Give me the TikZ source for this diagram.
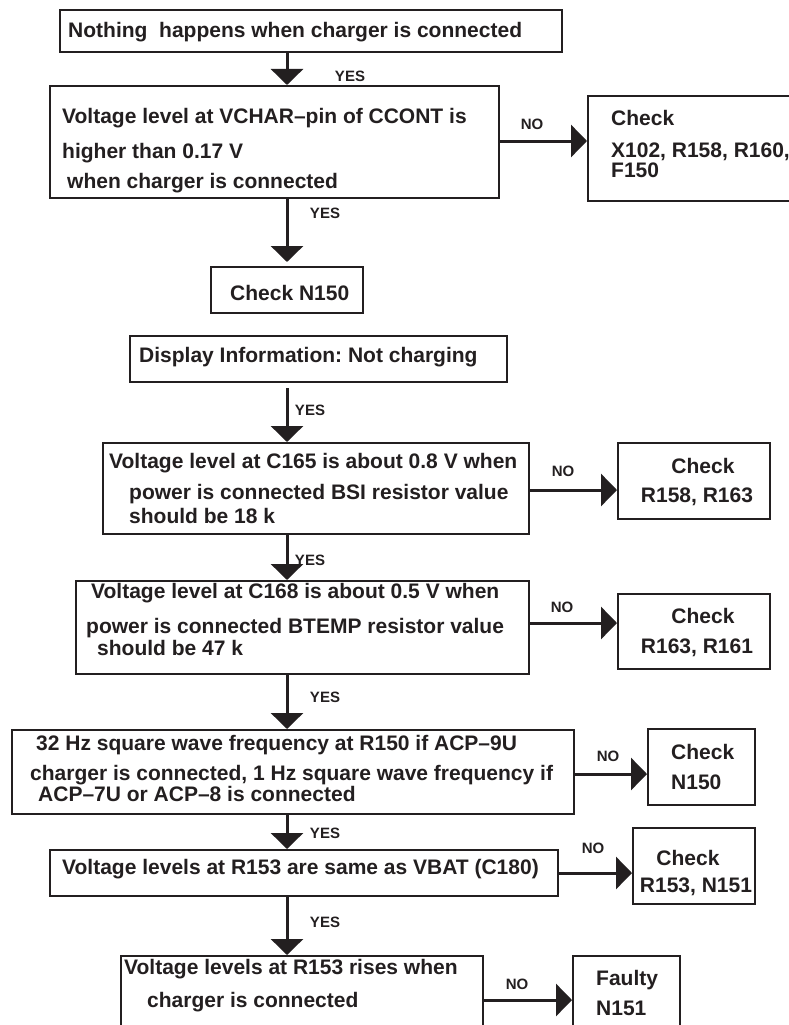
\documentclass[tikz,border=0pt]{standalone}
\usepackage{fontspec}
\setmainfont{Liberation Sans}
\usetikzlibrary{arrows.meta}
\definecolor{ink}{HTML}{231F20}
\frenchspacing
\begin{document}
\begin{tikzpicture}[x=1pt,y=-1pt,
  box/.style={draw=ink, line width=2pt, rectangle, inner sep=0pt},
  txt/.style={anchor=west, inner sep=0pt, text=ink,
    font=\fontsize{21}{24}\selectfont\bfseries, text height=15pt, text depth=4.4pt},
  ctxt/.style={txt, anchor=center},
  tag/.style={inner sep=0pt, text=ink, font=\fontsize{15}{18}\selectfont\bfseries},
  flow/.style={draw=ink, line width=3pt, -{Triangle[length=16pt,width=32pt]}}]

\useasboundingbox (0,0) rectangle (789,1025);
\fill[white] (0,0) rectangle (789,1025);
\clip (0,0) rectangle (789,1025);

% vertical guide of the main YES path
\coordinate (spine) at (287,0);

% ---- boxes ----
\node[box, minimum width=502pt, minimum height=42pt]  (b1)  at (311,31) {};
\node[box, minimum width=449pt, minimum height=112pt] (b2)  at (274.5,142) {};
\node[box, minimum width=212pt, minimum height=105pt] (b3)  at (694,148.5) {};
\node[box, minimum width=152pt, minimum height=46pt]  (b4)  at (287,290) {};
\node[box, minimum width=377pt, minimum height=46pt]  (b5)  at (318.5,359) {};
\node[box, minimum width=426pt, minimum height=91pt]  (b6)  at (316,488.5) {};
\node[box, minimum width=152pt, minimum height=76pt]  (b7)  at (694,481) {};
\node[box, minimum width=453pt, minimum height=93pt]  (b8)  at (302.5,627.5) {};
\node[box, minimum width=152pt, minimum height=75pt]  (b9)  at (694,631.5) {};
\node[box, minimum width=562pt, minimum height=84pt]  (b10) at (293,772) {};
\node[box, minimum width=107pt, minimum height=76pt]  (b11) at (701.5,767) {};
\node[box, minimum width=508pt, minimum height=46pt]  (b12) at (304,873) {};
\node[box, minimum width=122pt, minimum height=76pt]  (b13) at (694,866) {};
\node[box, minimum width=362pt, minimum height=89pt]  (b14) at (302,1000.5) {};
\node[box, minimum width=107pt, minimum height=89pt]  (b15) at (626.5,1000.5) {};

% ---- box texts ----
\node[txt] (t1) at (68,32) {Nothing\ \ happens when charger is connected};

\node[txt] (t2a) at (62,118) {Voltage level at VCHAR--pin of CCONT is};
\node[txt] (t2b) at (62,153) {higher than 0.17 V};
\node[txt] (t2c) at (67,183) {when charger is connected};

\node[txt] (t3a) at (611,120) {Check};
\node[txt] (t3b) at (611,152) {X102, R158, R160,};
\node[txt] (t3c) at (611,172) {F150};

\node[txt] (t4) at (230,295) {Check N150};

\node[txt] (t5) at (139,357) {Display Information: Not charging};

\node[txt] (t6a) at (109,463) {Voltage level at C165 is about 0.8 V when};
\node[txt] (t6b) at (129,494) {power is connected BSI resistor value};
\node[txt] (t6c) at (129,518) {should be 18 k};

\node[ctxt] (t7a) at (703,468) {Check};
\node[ctxt] (t7b) at (697,497) {R158, R163};

\node[txt] (t8a) at (91,593) {Voltage level at C168 is about 0.5 V when};
\node[txt] (t8b) at (86,628) {power is connected BTEMP resistor value};
\node[txt] (t8c) at (97,650) {should be 47 k};

\node[ctxt] (t9a) at (703,618) {Check};
\node[ctxt] (t9b) at (697,648) {R163, R161};

\node[txt] (t10a) at (36,745) {32 Hz square wave frequency at R150 if ACP--9U};
\node[txt] (t10b) at (30,775) {charger is connected, 1 Hz square wave frequency if};
\node[txt] (t10c) at (38,796) {ACP--7U or ACP--8 is connected};

\node[txt] (t11a) at (671,754) {Check};
\node[txt] (t11b) at (671,784) {N150};

\node[txt] (t12) at (62,869) {Voltage levels at R153 are same as VBAT (C180)};

\node[ctxt] (t13a) at (688,860) {Check};
\node[ctxt] (t13b) at (696,887) {R153, N151};

\node[txt] (t14a) at (124,969) {Voltage levels at R153 rises when};
\node[txt] (t14b) at (147,1002) {charger is connected};

\node[txt] (t15a) at (596,980) {Faulty};
\node[txt] (t15b) at (596,1010) {N151};

% ---- YES path ----
\draw[flow] (b1.south -| spine) -- (b2.north -| spine);
\draw[flow, shorten >=4pt] (b2.south -| spine) -- (b4.north -| spine);
\draw[flow, shorten <=5pt] (b5.south -| spine) -- (b6.north -| spine);
\draw[flow] (b6.south -| spine) -- (b8.north -| spine);
\draw[flow] (b8.south -| spine) -- (b10.north -| spine);
\draw[flow] (b10.south -| spine) -- (b12.north -| spine);
\draw[flow] (b12.south -| spine) -- (b14.north -| spine);

\node[tag] (y1) at (350,76)  {YES};
\node[tag] (y2) at (325,213) {YES};
\node[tag] (y3) at (310,410) {YES};
\node[tag] (y4) at (310,560) {YES};
\node[tag] (y5) at (325,697) {YES};
\node[tag] (y6) at (325,833) {YES};
\node[tag] (y7) at (325,922) {YES};

% ---- NO branches ----
\draw[flow] (b2.east |- 0,141)  -- (b3.west |- 0,141);
\draw[flow] (b6.east |- 0,490)  -- (b7.west |- 0,490);
\draw[flow] (b8.east |- 0,623)  -- (b9.west |- 0,623);
\draw[flow] (b10.east |- 0,774) -- (b11.west |- 0,774);
\draw[flow] (b12.east |- 0,873) -- (b13.west |- 0,873);
\draw[flow] (b14.east |- 0,1000) -- (b15.west |- 0,1000);

\node[tag] (n1) at (532,124) {NO};
\node[tag] (n2) at (563,471) {NO};
\node[tag] (n3) at (562,607) {NO};
\node[tag] (n4) at (608,756) {NO};
\node[tag] (n5) at (593,848) {NO};
\node[tag] (n6) at (517,984) {NO};
\end{tikzpicture}
\end{document}
